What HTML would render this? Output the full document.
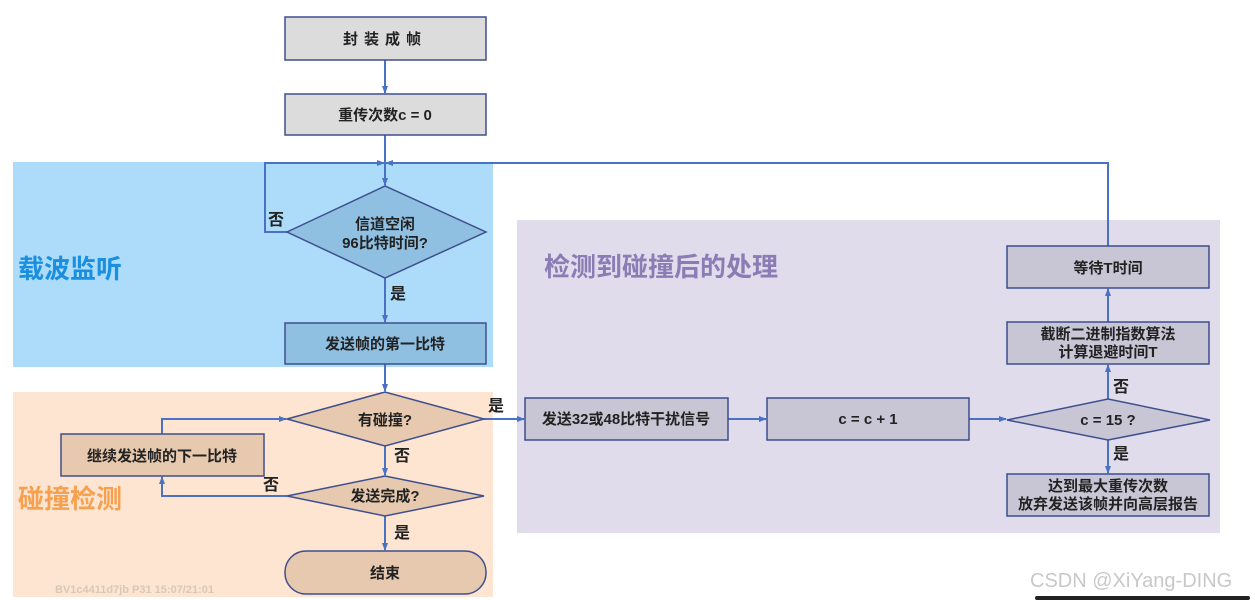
<!DOCTYPE html>
<html><head><meta charset="utf-8"><style>
html,body{margin:0;padding:0;background:#fff;width:1255px;height:600px;overflow:hidden}
svg text{font-family:"Liberation Sans","Noto Sans CJK SC",sans-serif;font-weight:bold}
</style></head><body>
<svg width="1255" height="600" xmlns="http://www.w3.org/2000/svg">
<defs><marker id="a" markerWidth="8" markerHeight="8" refX="7" refY="4" orient="auto" markerUnits="userSpaceOnUse"><path d="M0,1 L8,4 L0,7z" fill="#4a72c4"/></marker></defs>
<rect x="13" y="162" width="480" height="205" fill="#addcfb"/>
<rect x="13" y="392" width="480" height="205" fill="#fde5d1"/>
<rect x="517" y="220" width="703" height="313" fill="#e0dcec"/>
<text x="18" y="278" font-size="26" fill="#1a8fe0">载波监听</text>
<text x="18" y="508" font-size="26" fill="#f7a050">碰撞检测</text>
<text x="544" y="276" font-size="26" fill="#8a7cb4">检测到碰撞后的处理</text>
<g stroke="#4a72c4" stroke-width="2" fill="none">
<line x1="385" y1="60" x2="385" y2="93" marker-end="url(#a)"/>
<line x1="385" y1="135" x2="385" y2="185" marker-end="url(#a)"/>
<polyline points="287,232 265,232 265,163 384,163" marker-end="url(#a)"/>
<polyline points="1108,246 1108,163 386,163" marker-end="url(#a)"/>
<line x1="385" y1="278" x2="385" y2="322" marker-end="url(#a)"/>
<line x1="385" y1="364" x2="385" y2="391" marker-end="url(#a)"/>
<line x1="484" y1="419" x2="524" y2="419" marker-end="url(#a)"/>
<line x1="385" y1="446" x2="385" y2="475" marker-end="url(#a)"/>
<line x1="385" y1="516" x2="385" y2="550" marker-end="url(#a)"/>
<polyline points="162,434 162,419 286,419" marker-end="url(#a)"/>
<polyline points="287,496 162,496 162,477" marker-end="url(#a)"/>
<line x1="728" y1="419" x2="766" y2="419" marker-end="url(#a)"/>
<line x1="969" y1="419" x2="1006" y2="419" marker-end="url(#a)"/>
<line x1="1108" y1="399" x2="1108" y2="365" marker-end="url(#a)"/>
<line x1="1108" y1="322" x2="1108" y2="289" marker-end="url(#a)"/>
<line x1="1108" y1="440" x2="1108" y2="473" marker-end="url(#a)"/>
</g>
<g stroke="#3e4f8e" stroke-width="1.5">
<rect x="285" y="17" width="201" height="43" fill="#dcdcdc"/>
<rect x="285" y="94" width="201" height="41" fill="#dcdcdc"/>
<polygon points="287,232 385,186 486,232 385,278" fill="#8fc0e2"/>
<rect x="285" y="323" width="201" height="41" fill="#8fc0e2"/>
<polygon points="287,419 385,392 484,419 385,446" fill="#e6c9ae"/>
<polygon points="287,496 385,476 484,496 385,516" fill="#e6c9ae"/>
<rect x="61" y="434" width="203" height="42" fill="#e6c9ae"/>
<rect x="285" y="551" width="201" height="43" rx="21" fill="#e6c9ae"/>
<rect x="525" y="398" width="203" height="42" fill="#c8c6d4"/>
<rect x="767" y="398" width="202" height="42" fill="#c8c6d4"/>
<polygon points="1007,420 1108,399 1210,420 1108,440" fill="#c8c6d4"/>
<rect x="1007" y="322" width="202" height="42" fill="#c8c6d4"/>
<rect x="1007" y="246" width="202" height="42" fill="#c8c6d4"/>
<rect x="1007" y="474" width="202" height="42" fill="#c8c6d4"/>
</g>
<g font-size="15" fill="#222" text-anchor="middle">
<text x="385" y="44" letter-spacing="6">封装成帧</text>
<text x="385" y="120">重传次数c = 0</text>
<text x="385" y="229">信道空闲</text>
<text x="385" y="248">96比特时间?</text>
<text x="385" y="349">发送帧的第一比特</text>
<text x="385" y="425">有碰撞?</text>
<text x="385" y="501">发送完成?</text>
<text x="162" y="461">继续发送帧的下一比特</text>
<text x="385" y="578">结束</text>
<text x="626" y="424">发送32或48比特干扰信号</text>
<text x="868" y="424">c = c + 1</text>
<text x="1108" y="425">c = 15 ?</text>
<text x="1108" y="339">截断二进制指数算法</text>
<text x="1108" y="357">计算退避时间T</text>
<text x="1108" y="273">等待T时间</text>
<text x="1108" y="491">达到最大重传次数</text>
<text x="1108" y="509">放弃发送该帧并向高层报告</text>
</g>
<g font-size="16" fill="#222">
<text x="268" y="225">否</text>
<text x="390" y="299">是</text>
<text x="488" y="411">是</text>
<text x="394" y="461">否</text>
<text x="263" y="490">否</text>
<text x="394" y="538">是</text>
<text x="1113" y="392">否</text>
<text x="1113" y="459">是</text>
</g>
<text x="55" y="593" font-size="11" fill="#d8c8b8">BV1c4411d7jb P31 15:07/21:01</text>
<text x="1030" y="587" font-size="20" fill="#c8c8c8" style="font-weight:normal">CSDN @XiYang-DING</text>
<rect x="1035" y="596" width="215" height="4" rx="2" fill="#222"/>
</svg>
</body></html>
